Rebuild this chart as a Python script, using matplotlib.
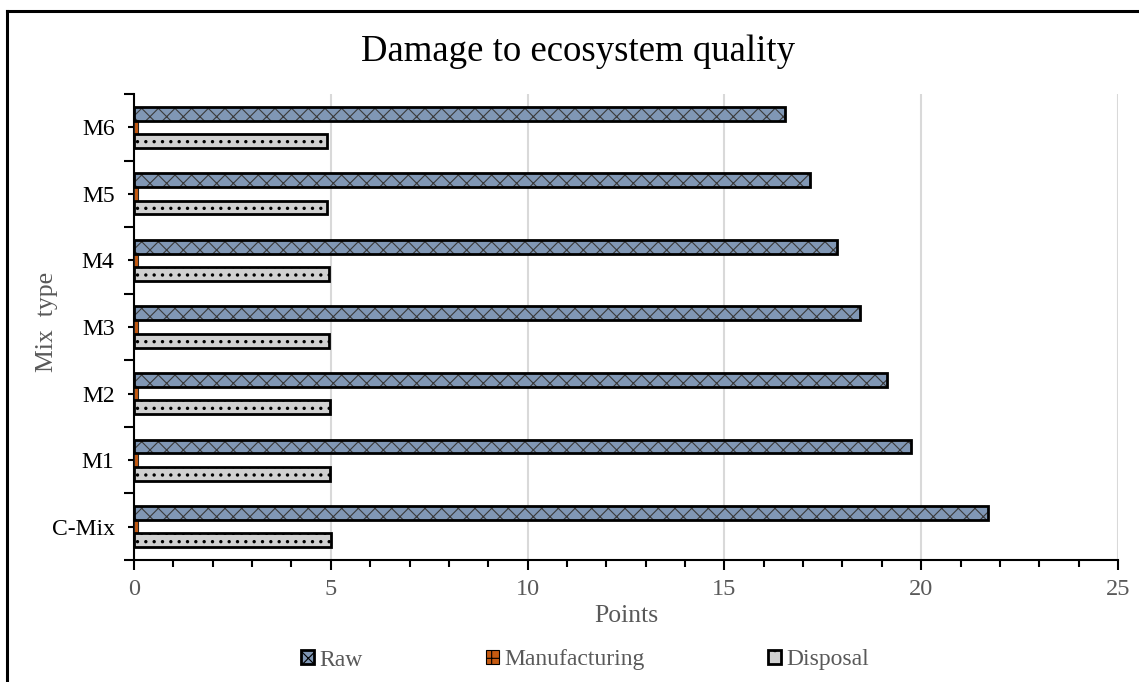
import matplotlib
matplotlib.use("Agg")
import matplotlib.pyplot as plt
from matplotlib.patches import Patch
from matplotlib.lines import Line2D
import numpy as np

categories = ["C-Mix", "M1", "M2", "M3", "M4", "M5", "M6"]
raw = [21.7, 19.75, 19.13, 18.45, 17.85, 17.17, 16.55]
manufacturing = [0.09, 0.09, 0.09, 0.09, 0.09, 0.09, 0.09]
disposal = [5.0, 4.98, 4.97, 4.96, 4.95, 4.9, 4.9]
series_names = ["Raw", "Manufacturing", "Disposal"]
x_ticks = [0, 5, 10, 15, 20, 25]

plt.rcParams['font.family'] = ['Liberation Serif', 'DejaVu Serif']
plt.rcParams['hatch.linewidth'] = 0.8

fig = plt.figure(figsize=(11.39, 6.82), dpi=100)
ax = fig.add_axes([134/1139, 1-560/682, (1118-134)/1139, (560-94)/682])

y = np.arange(len(categories))
h = 0.21
off = 0.205

RAW_FACE = "#8097B5"
MAN_FACE = "#C55A11"
DIS_FACE = "#D0D0D0"


def set_hlw(patches, lw):
    for p in patches:
        if hasattr(p, "set_hatch_linewidth"):
            p.set_hatch_linewidth(lw)


# Raw
rb = ax.barh(y + off, raw, height=h, color=RAW_FACE, edgecolor="#3a3a3a", hatch="xx", linewidth=0, zorder=3)
set_hlw(rb, 0.8)
ax.barh(y + off, raw, height=h, fill=False, edgecolor="black", linewidth=2, zorder=4)
# Manufacturing
ax.barh(y, manufacturing, height=h, color=MAN_FACE, edgecolor="#222222", linewidth=0.8, zorder=3)
# Disposal
db = ax.barh(y - off, disposal, height=h, color=DIS_FACE, edgecolor="black", hatch="..", linewidth=0, zorder=3)
set_hlw(db, 1.2)
ax.barh(y - off, disposal, height=h, fill=False, edgecolor="black", linewidth=2, zorder=4)

ax.set_xlim(0, 25)
ax.set_ylim(-0.5, len(categories) - 0.5)
ax.set_xticks(x_ticks)
ax.set_xticks(np.arange(0, 26, 1), minor=True)
ax.set_yticks(y)
ax.set_yticklabels(categories)
ax.set_yticks(np.arange(-0.5, len(categories), 1), minor=True)

ax.grid(axis="x", which="major", color="#D9D9D9", linewidth=1.5, zorder=0)
ax.set_axisbelow(True)

for s in ["top", "right"]:
    ax.spines[s].set_visible(False)
for s in ["left", "bottom"]:
    ax.spines[s].set_linewidth(1.5)
    ax.spines[s].set_color("black")

ax.tick_params(axis="x", which="major", direction="out", length=7, width=1.5, colors="black",
               labelcolor="#595959", labelsize=17.5, pad=7)
ax.tick_params(axis="x", which="minor", direction="out", length=5, width=1.5, colors="black")
ax.tick_params(axis="y", which="major", direction="out", length=4, width=1.5, colors="black",
               labelcolor="black", labelsize=17, pad=10)
ax.tick_params(axis="y", which="minor", direction="out", length=7, width=1.5, colors="black")

ax.set_xlabel("Points", fontsize=18.5, color="#595959", labelpad=3)
ax.set_ylabel("Mix  type", fontsize=18.5, color="#595959")
ax.yaxis.set_label_coords(-0.077, 0.51)

fig.text(578/1139, 1-52/682, "Damage to ecosystem quality", fontsize=26.5, color="black",
         ha="center", va="center")

handles = [
    Patch(facecolor=RAW_FACE, edgecolor="black", hatch="xx", linewidth=2),
    Patch(facecolor=MAN_FACE, edgecolor="black", hatch="+", linewidth=0.8),
    Patch(facecolor=DIS_FACE, edgecolor="black", hatch=".", linewidth=2),
]
leg = fig.legend(handles, series_names, loc="center", bbox_to_anchor=(585/1139, 1-660/682),
                 ncol=3, frameon=False, fontsize=17, handlelength=0.55, handleheight=0.55,
                 handletextpad=0.25, columnspacing=5.2)
for t in leg.get_texts():
    t.set_color("#595959")

# chart-area border (left and top)
fig.add_artist(Line2D([7/1139, 7/1139], [0, 1-11/682], color="black", linewidth=2.2,
                      transform=fig.transFigure))
fig.add_artist(Line2D([7/1139, 1], [1-11/682, 1-11/682], color="black", linewidth=2.2,
                      transform=fig.transFigure))

fig.savefig("out.png", dpi=100)
